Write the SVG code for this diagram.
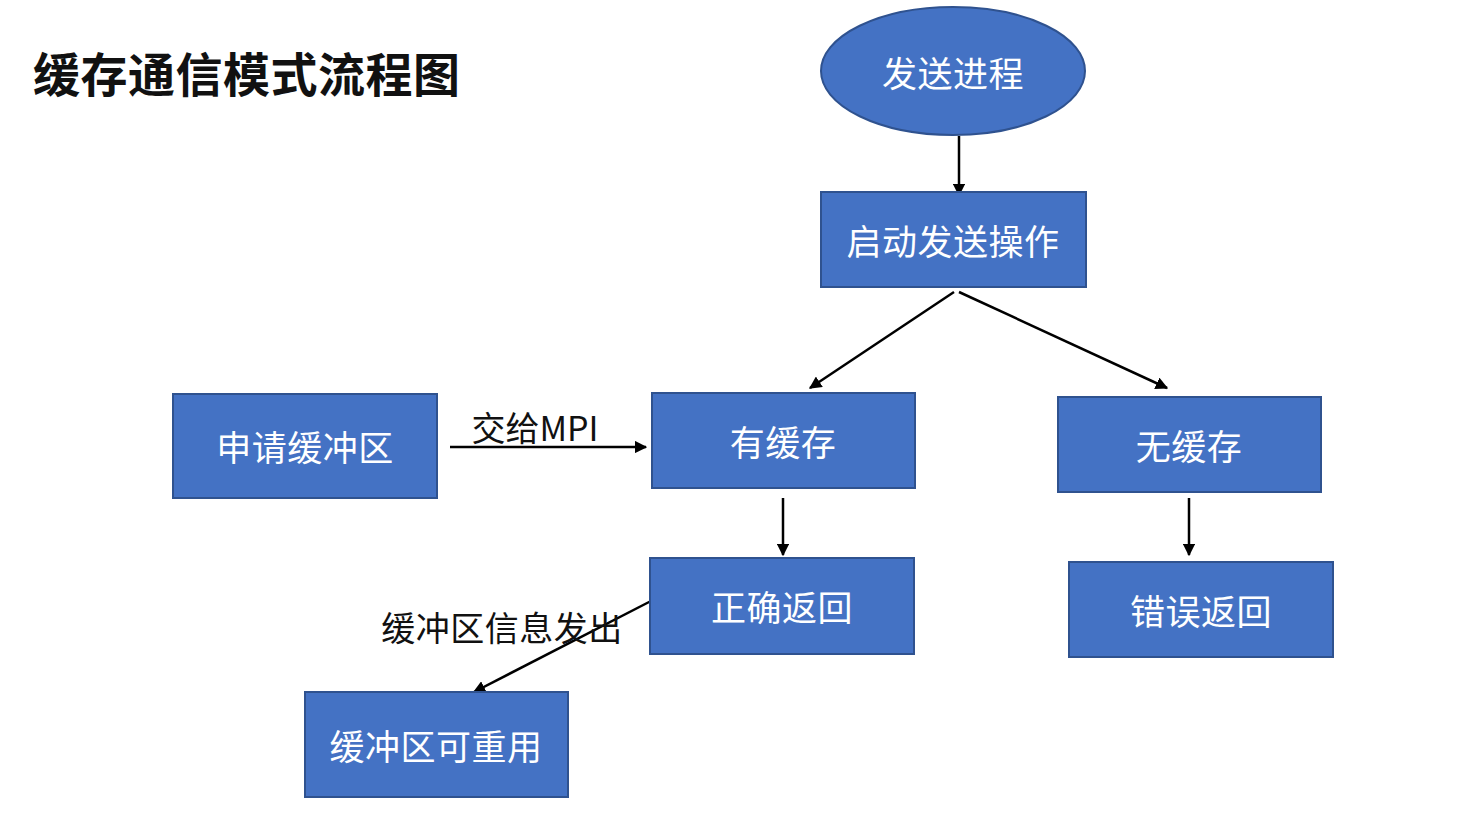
<svg xmlns="http://www.w3.org/2000/svg" width="1468" height="818" viewBox="0 0 1468 818">
<defs>
<style>
.n{fill:#4472C4;stroke:#2F528F;stroke-width:2}
.t{font-family:"Noto Sans CJK SC","Liberation Sans",sans-serif;font-size:35px;letter-spacing:0.5px;fill:#ffffff;text-anchor:middle;dominant-baseline:central}
.l{font-family:"Noto Sans CJK SC","Liberation Sans",sans-serif;font-size:34px;fill:#111;text-anchor:middle;dominant-baseline:central}
.c{stroke:#000;stroke-width:2.5;fill:none;marker-end:url(#a)}
</style>
<marker id="a" viewBox="0 0 10 10" refX="9" refY="5" markerWidth="5" markerHeight="5" orient="auto" markerUnits="strokeWidth">
<path d="M0,0L10,5L0,10z" fill="#000"/>
</marker>
</defs>
<rect width="1468" height="818" fill="#fff"/>
<text x="33" y="71" font-family="'Noto Sans CJK SC','Liberation Sans',sans-serif" font-size="47" font-weight="bold" letter-spacing="0.5" fill="#111" dominant-baseline="central">缓存通信模式流程图</text>
<g id="connectors">
<line class="c" x1="959" y1="136" x2="959" y2="195"/>
<line class="c" x1="954" y1="292" x2="810" y2="388"/>
<line class="c" x1="959" y1="292" x2="1167" y2="388"/>
<line class="c" x1="450" y1="447" x2="646" y2="447"/>
<line class="c" x1="783" y1="498" x2="783" y2="555"/>
<line class="c" x1="1189" y1="498" x2="1189" y2="555"/>
<line class="c" x1="651" y1="601" x2="474" y2="692"/>
<text class="l" x="535" y="426">交给MPI</text>
<text class="l" x="502" y="626" font-size="35" letter-spacing="0.5">缓冲区信息发出</text>
</g>
<g id="send-process"><ellipse class="n" cx="953" cy="71" rx="132" ry="64"/><text class="t" x="953" y="71">发送进程</text></g>
<g id="start-send"><rect class="n" x="821" y="192" width="265" height="95"/><text class="t" x="953" y="239">启动发送操作</text></g>
<g id="has-buffer"><rect class="n" x="652" y="393" width="263" height="95"/><text class="t" x="783" y="440">有缓存</text></g>
<g id="no-buffer"><rect class="n" x="1058" y="397" width="263" height="95"/><text class="t" x="1189" y="444">无缓存</text></g>
<g id="apply-buffer"><rect class="n" x="173" y="394" width="264" height="104"/><text class="t" x="305" y="445">申请缓冲区</text></g>
<g id="correct-return"><rect class="n" x="650" y="558" width="264" height="96"/><text class="t" x="782" y="605">正确返回</text></g>
<g id="error-return"><rect class="n" x="1069" y="562" width="264" height="95"/><text class="t" x="1201" y="609">错误返回</text></g>
<g id="buffer-reusable"><rect class="n" x="305" y="692" width="263" height="105"/><text class="t" x="436" y="744">缓冲区可重用</text></g>
</svg>
